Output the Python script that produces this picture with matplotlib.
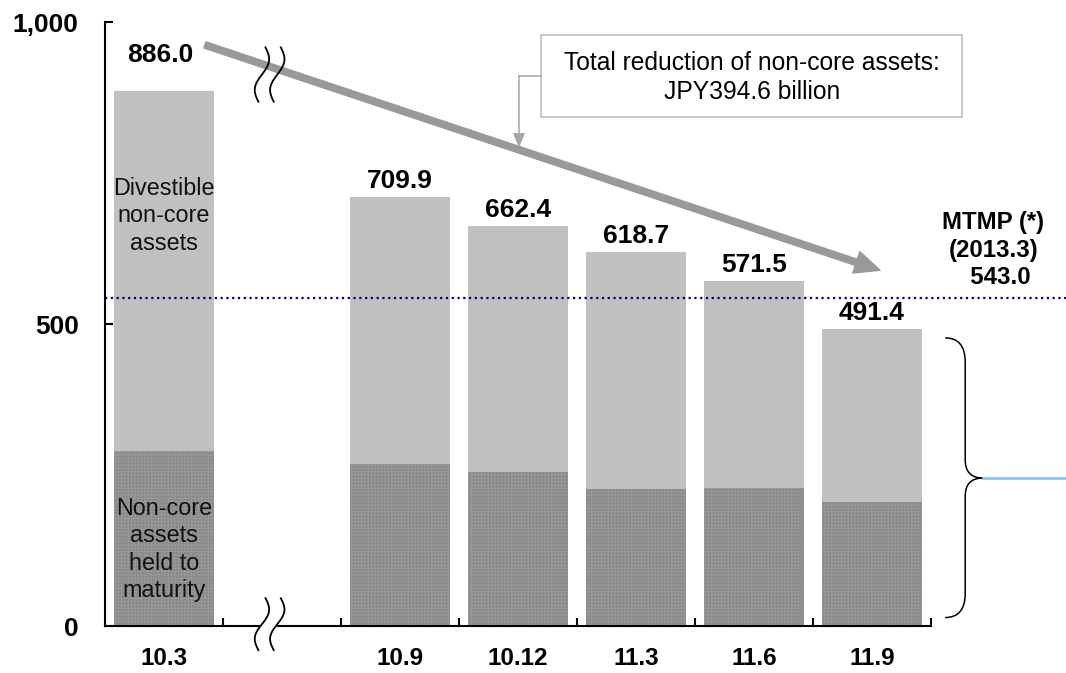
import numpy as np
import matplotlib
matplotlib.use("Agg")
import matplotlib.pyplot as plt
from matplotlib.patches import Rectangle, PathPatch
from matplotlib.path import Path
from matplotlib.lines import Line2D

plt.rcParams['font.family'] = ['Liberation Sans', 'DejaVu Sans']
plt.rcParams['hatch.linewidth'] = 0.5

# Non-core asset balances (JPY billion)
categories = ['10.3', '10.9', '10.12', '11.3', '11.6', '11.9']
totals = [886.0, 709.9, 662.4, 618.7, 571.5, 491.4]
held_to_maturity = [290, 268, 255, 227, 228, 205]
mtmp_target = 543.0
y_ticks = [0, 500, 1000]
y_tick_labels = ['0', '500', '1,000']

divestible = [t - h for t, h in zip(totals, held_to_maturity)]
# one empty slot (axis break) between the first period and the rest
slots = [0] + [i + 1 for i in range(1, len(categories))]

LIGHT = '#c0c0c0'
DARK = '#8a8a8a'

fig = plt.figure(figsize=(10.66, 6.73), dpi=100)
ax = fig.add_axes([105 / 1066, 47 / 673, 826 / 1066, 604 / 673])

ax.bar(slots, held_to_maturity, width=0.85, color=DARK, edgecolor='#9b9b9b',
       linewidth=0, hatch='+++++', zorder=2)
ax.bar(slots, divestible, bottom=held_to_maturity, width=0.85, color=LIGHT, zorder=2)

ax.set_xlim(-0.5, 6.5)
ax.set_ylim(0, 1000)

for side in ('top', 'right'):
    ax.spines[side].set_visible(False)
for side in ('left', 'bottom'):
    ax.spines[side].set_linewidth(1.5)
    ax.spines[side].set_zorder(5)

ax.set_yticks(y_ticks)
ax.set_yticklabels(y_tick_labels, fontsize=19, fontweight='bold')
ax.tick_params(axis='y', direction='in', length=6, width=1.5, pad=19)

ax.set_xticks(slots)
ax.set_xticklabels(categories, fontsize=17.5, fontweight='bold')
ax.set_xticks(np.arange(0.5, 7.0, 1.0), minor=True)
ax.tick_params(axis='x', which='major', length=0, pad=15)
ax.tick_params(axis='x', which='minor', direction='in', length=6, width=1.5)

# value labels above each bar
for i, (s, t) in enumerate(zip(slots, totals)):
    off = 17 if i == 0 else 3
    ax.annotate(f'{t:.1f}', xy=(s, t), xytext=(-3 if i == 0 else 0, off),
                textcoords='offset points', ha='center', va='bottom',
                fontsize=19, fontweight='bold')

# segment captions inside the first bar
ax.text(slots[0], 679, 'Divestible\nnon-core\nassets', ha='center', va='center',
        fontsize=16.8, linespacing=1.25, color='#111111', zorder=4)
ax.text(slots[0], 127, 'Non-core\nassets\nheld to\nmaturity', ha='center', va='center',
        fontsize=16.8, linespacing=1.25, color='#111111', zorder=4)

# medium-term plan target line
ax.plot([-0.5, 7.65], [mtmp_target, mtmp_target], color='#000080', lw=1.6,
        linestyle=(0, (1, 1.6)), clip_on=False, zorder=3)
ax.text(7.03, 622, f'MTMP (*)\n(2013.3)\n  {mtmp_target:.1f}', ha='center', va='center',
        fontsize=17.3, fontweight='bold', linespacing=1.25)

# overall reduction arrow
ax.annotate('', xy=(6.068, 589), xytext=(0.347, 962),
            arrowprops=dict(arrowstyle='simple,head_length=1.0,head_width=0.9,tail_width=0.26',
                            mutation_scale=18, color='#999999', shrinkA=0, shrinkB=0),
            annotation_clip=False, zorder=3)

# callout box
fig.add_artist(Rectangle((541 / 1066, 1 - 117 / 673), 421 / 1066, 82 / 673,
                         transform=fig.transFigure, facecolor='white',
                         edgecolor='#c4c4c4', lw=1.3))
reduction = totals[0] - totals[-1]
fig.text(752 / 1066, 1 - 77.5 / 673,
         f'Total reduction of non-core assets:\nJPY{reduction:.1f} billion',
         ha='center', va='center', fontsize=17.7, linespacing=1.3)
fig.add_artist(Line2D([541 / 1066, 519 / 1066], [1 - 76 / 673, 1 - 76 / 673],
                      transform=fig.transFigure, color='#a6a6a6', lw=1.1))
fig.add_artist(Line2D([519 / 1066, 519 / 1066], [1 - 76 / 673, 1 - 134 / 673],
                      transform=fig.transFigure, color='#a6a6a6', lw=1.1))
fig.patches.append(plt.Polygon([[513 / 1066, 1 - 133 / 673], [525 / 1066, 1 - 133 / 673],
                                [519 / 1066, 1 - 148 / 673]], closed=True,
                               transform=fig.transFigure, facecolor='#a6a6a6',
                               edgecolor='none'))


# axis-break marks
def wave(xc, y_top, y_bot, n=60):
    t = np.linspace(0, 1, n)
    y = y_top + (y_bot - y_top) * t
    x = xc - 0.06 * t + 0.045 * np.sin(2 * np.pi * t)
    return x, y


for (yt, yb, blank) in [(958, 868, False), (46, -40, True)]:
    xl, yl = wave(0.86, yt, yb)
    xr, yr = wave(0.99, yt, yb)
    if blank:
        ax.fill(np.concatenate([xl, xr[::-1]]), np.concatenate([yl, yr[::-1]]),
                color='white', clip_on=False, zorder=6)
    ax.plot(xl, yl, color='black', lw=1.3, clip_on=False, zorder=7)
    ax.plot(xr, yr, color='black', lw=1.3, clip_on=False, zorder=7)

# curly brace on the right
xe, xv, xm = 6.62, 6.79, 6.94
yt, ym, yb = 477, 245, 14
verts = [(xe, yt), (xv, yt), (xv, yt - 40),
         (xv, ym + 30),
         (xv, ym), (xm, ym),
         (xv, ym), (xv, ym - 30),
         (xv, yb + 40),
         (xv, yb), (xe, yb)]
codes = [Path.MOVETO, Path.CURVE3, Path.CURVE3,
         Path.LINETO,
         Path.CURVE3, Path.CURVE3,
         Path.CURVE3, Path.CURVE3,
         Path.LINETO,
         Path.CURVE3, Path.CURVE3]
ax.add_patch(PathPatch(Path(verts, codes), facecolor='none', edgecolor='black',
                       lw=1.1, clip_on=False))
ax.plot([xm, 7.65], [ym, ym], color='#8fc3ee', lw=2, clip_on=False)

fig.savefig('out.png', dpi=100)
